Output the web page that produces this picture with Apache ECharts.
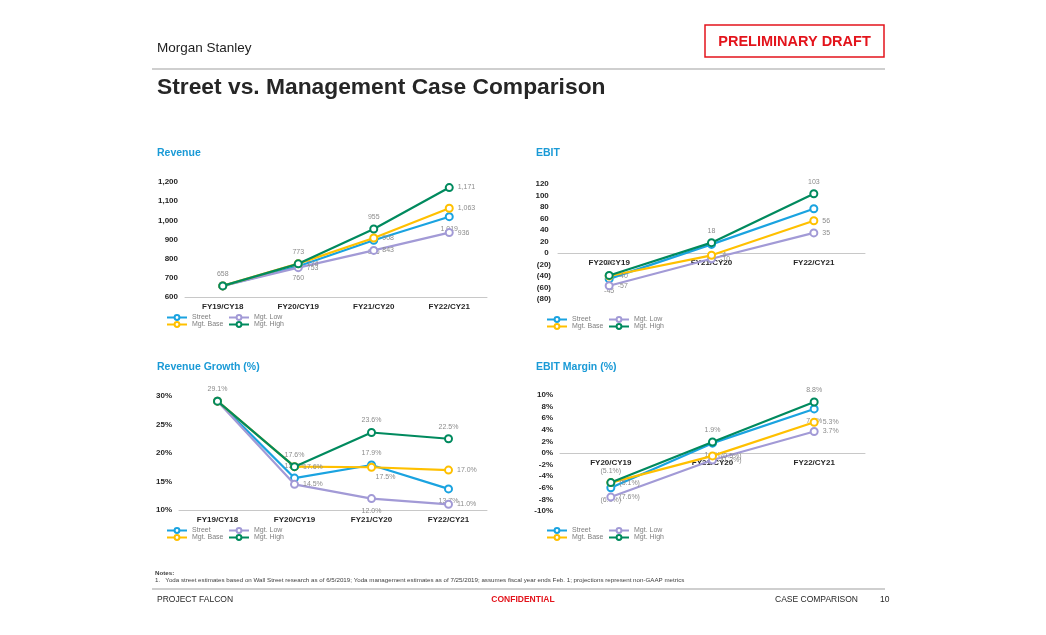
<!DOCTYPE html>
<html>
<head>
<meta charset="utf-8">
<script src="https://cdn.jsdelivr.net/npm/echarts@6/dist/echarts.min.js"></script>
<style>
html,body{margin:0;padding:0;background:#fff;}
#c{width:1046px;height:635px;}
</style>
</head>
<body>
<div id="c"></div>
<script>
// ---- Data ----
const revCats = ['FY19/CY18', 'FY20/CY19', 'FY21/CY20', 'FY22/CY21'];
const ebitCats = ['FY20/CY19', 'FY21/CY20', 'FY22/CY21'];
const seriesNames = ['Street', 'Mgt. Low', 'Mgt. Base', 'Mgt. High'];

const revStreet = [658, 760, 896, 1019];
const revLow    = [658, 753, 843, 936];
const revBase   = [658, 774, 908, 1063];
const revHigh   = [658, 773, 955, 1171];

const ebitStreet = [-45, 15, 77];
const ebitLow    = [-57, -10, 35];
const ebitBase   = [-40, -4, 56];
const ebitHigh   = [-39, 18, 103];

const grStreet = [29.1, 15.6, 17.9, 13.7];
const grLow    = [29.1, 14.5, 12.0, 11.0];
const grBase   = [29.1, 17.6, 17.5, 17.0];
const grHigh   = [29.1, 17.6, 23.6, 22.5];

const mgStreet = [-6.0, 1.7, 7.6];
const mgLow    = [-7.6, -1.2, 3.7];
const mgBase   = [-5.1, -0.5, 5.3];
const mgHigh   = [-5.1, 1.9, 8.8];

// ---- Styling ----
const colors = {'Street': '#1aa3e0', 'Mgt. Low': '#a29ad6', 'Mgt. Base': '#ffc000', 'Mgt. High': '#008a5e'};
const FONT = 'Liberation Sans, Arial, sans-serif';

const labelPos = {
  rev:  {'Street': ['none','bottom','bottom','bottom'], 'Mgt. Low': ['none','right','right','right'], 'Mgt. Base': ['none','right','right','right'], 'Mgt. High': ['top','top','top','right']},
  ebit: {'Street': ['bottom','bottom','bottom'], 'Mgt. Low': ['right','right','right'], 'Mgt. Base': ['right','right','right'], 'Mgt. High': ['top','top','top']},
  gr:   {'Street': ['none','top','top','bottom'], 'Mgt. Low': ['none','right','bottom','right'], 'Mgt. Base': ['none','right','bottom','right'], 'Mgt. High': ['top','top','top','top']},
  mg:   {'Street': ['bottom','bottom','bottom'], 'Mgt. Low': ['right','right','right'], 'Mgt. Base': ['right','right','right'], 'Mgt. High': ['top','top','top']}
};

const fmt = {
  rev: v => v.toLocaleString('en-US'),
  ebit: v => String(v),
  gr: v => v.toFixed(1) + '%',
  mg: v => v < 0 ? '(' + Math.abs(v).toFixed(1) + '%)' : v.toFixed(1) + '%'
};

const chartData = [
  {key: 'rev',  idx: 0, sets: [revStreet, revLow, revBase, revHigh]},
  {key: 'ebit', idx: 1, sets: [ebitStreet, ebitLow, ebitBase, ebitHigh]},
  {key: 'gr',   idx: 2, sets: [grStreet, grLow, grBase, grHigh]},
  {key: 'mg',   idx: 3, sets: [mgStreet, mgLow, mgBase, mgHigh]}
];

const series = [];
chartData.forEach(cd => {
  seriesNames.forEach((nm, si) => {
    const pos = labelPos[cd.key][nm];
    series.push({
      type: 'line',
      name: nm,
      xAxisIndex: cd.idx,
      yAxisIndex: cd.idx,
      symbol: 'emptyCircle',
      symbolSize: 7,
      lineStyle: {width: 2.2, color: colors[nm]},
      itemStyle: {color: colors[nm], borderWidth: 1.8},
      z: 2 + si,
      label: {
        show: true, fontSize: 7, color: '#8c8c8c', fontFamily: FONT, distance: 4,
        formatter: p => fmt[cd.key](p.value)
      },
      emphasis: {disabled: true},
      data: cd.sets[si].map((v, i) => {
        const p = pos[i];
        if (p === 'none') return {value: v, label: {show: false}};
        const o = {value: v, label: {show: true, position: p}};
        if (cd.key === 'gr' && i === 2 && nm === 'Mgt. Base') o.label.offset = [14, -2];
        return o;
      })
    });
  });
});

const grids = [
  {left: 185, top: 182, width: 302, height: 115},
  {left: 558, top: 184, width: 307, height: 115},
  {left: 179, top: 396, width: 308, height: 114},
  {left: 560, top: 395, width: 305, height: 116}
];

const yCfg = [
  {min: 600, max: 1200, interval: 100, f: v => v.toLocaleString('en-US')},
  {min: -80, max: 120, interval: 20, f: v => v < 0 ? '(' + Math.abs(v) + ')' : v + ' '},
  {min: 10, max: 30, interval: 5, f: v => v + '%'},
  {min: -10, max: 10, interval: 2, f: v => v + '%'}
];

const catsFor = [revCats, ebitCats, revCats, ebitCats];
const xAxis = catsFor.map((c, i) => {
  const y = yCfg[i];
  // place category axis (line + labels) at the value 0 when 0 is inside the range
  const zeroOffset = (y.min < 0 && y.max > 0) ? -grids[i].height * (0 - y.min) / (y.max - y.min) : 0;
  return {
    type: 'category', gridIndex: i, data: c, boundaryGap: true, position: 'bottom',
    offset: zeroOffset,
    axisLine: {onZero: false, lineStyle: {color: '#c8c8c8', width: 1}},
    axisTick: {show: false},
    axisLabel: {fontSize: 8, fontWeight: 'bold', color: '#262626', fontFamily: FONT, margin: 6}
  };
});

const yAxis = yCfg.map((y, i) => ({
  type: 'value', gridIndex: i, min: y.min, max: y.max, interval: y.interval,
  axisLine: {show: false}, axisTick: {show: false}, splitLine: {show: false},
  axisLabel: {fontSize: 8, fontWeight: 'bold', color: '#262626', fontFamily: FONT, margin: 7, formatter: y.f}
}));

const legendPos = [[166, 314], [546, 316], [166, 527], [546, 527]];
const legend = legendPos.map(p => ({
  left: p[0], top: p[1], width: 125, padding: 0, itemGap: 0,
  orient: 'horizontal', itemWidth: 20, itemHeight: 6,
  data: seriesNames, selectedMode: false,
  textStyle: {fontSize: 7, color: '#7f7f7f', fontFamily: FONT, width: 36, lineHeight: 7}
}));

const txt = (x, y, t, o) => ({type: 'text', x: x, y: y, silent: true,
  style: Object.assign({text: t, fontFamily: FONT, fill: '#262626', fontSize: 9, textVerticalAlign: 'middle', verticalAlign: 'middle'}, o || {})});

const blue = '#1a9ad6';
const graphic = [
  txt(157, 48, 'Morgan Stanley', {fontSize: 13.5, fill: '#1e1e1e'}),
  {type: 'rect', shape: {x: 705, y: 25, width: 179, height: 32}, style: {fill: 'none', stroke: '#e3141c', lineWidth: 1.5}, silent: true},
  txt(794.5, 42, 'PRELIMINARY DRAFT', {fontSize: 14.5, fontWeight: 'bold', fill: '#e3141c', align: 'center', textAlign: 'center'}),
  {type: 'line', shape: {x1: 152, y1: 69, x2: 885, y2: 69}, style: {stroke: '#bfbfbf', lineWidth: 1.5}, silent: true},
  txt(157, 88, 'Street vs. Management Case Comparison', {fontSize: 22.8, fontWeight: 'bold', fill: '#262626'}),
  txt(157, 153, 'Revenue', {fontSize: 10.5, fontWeight: 'bold', fill: blue}),
  txt(536, 153, 'EBIT', {fontSize: 10.5, fontWeight: 'bold', fill: blue}),
  txt(157, 367, 'Revenue Growth (%)', {fontSize: 10.5, fontWeight: 'bold', fill: blue}),
  txt(536, 367, 'EBIT Margin (%)', {fontSize: 10.5, fontWeight: 'bold', fill: blue}),
  txt(155, 573, 'Notes:', {fontSize: 6.2, fontWeight: 'bold', fill: '#404040'}),
  txt(155, 580, '1.   Yoda street estimates based on Wall Street research as of 6/5/2019; Yoda management estimates as of 7/25/2019; assumes fiscal year ends Feb. 1; projections represent non-GAAP metrics', {fontSize: 6.2, fill: '#404040'}),
  {type: 'line', shape: {x1: 152, y1: 589, x2: 885, y2: 589}, style: {stroke: '#bfbfbf', lineWidth: 1.5}, silent: true},
  txt(157, 600, 'PROJECT FALCON', {fontSize: 8.5, fill: '#262626'}),
  txt(523, 600, 'CONFIDENTIAL', {fontSize: 8.5, fontWeight: 'bold', fill: '#e3141c', align: 'center', textAlign: 'center'}),
  txt(858, 600, 'CASE COMPARISON', {fontSize: 8.5, fill: '#262626', align: 'right', textAlign: 'right'}),
  txt(880, 600, '10', {fontSize: 8.5, fill: '#262626'})
];

const chart = echarts.init(document.getElementById('c'), null, {renderer: 'canvas', width: 1046, height: 635});
chart.setOption({
  backgroundColor: '#ffffff',
  animation: false,
  textStyle: {fontFamily: FONT},
  grid: grids,
  xAxis: xAxis,
  yAxis: yAxis,
  legend: legend,
  graphic: graphic,
  series: series
});
</script>
</body>
</html>
